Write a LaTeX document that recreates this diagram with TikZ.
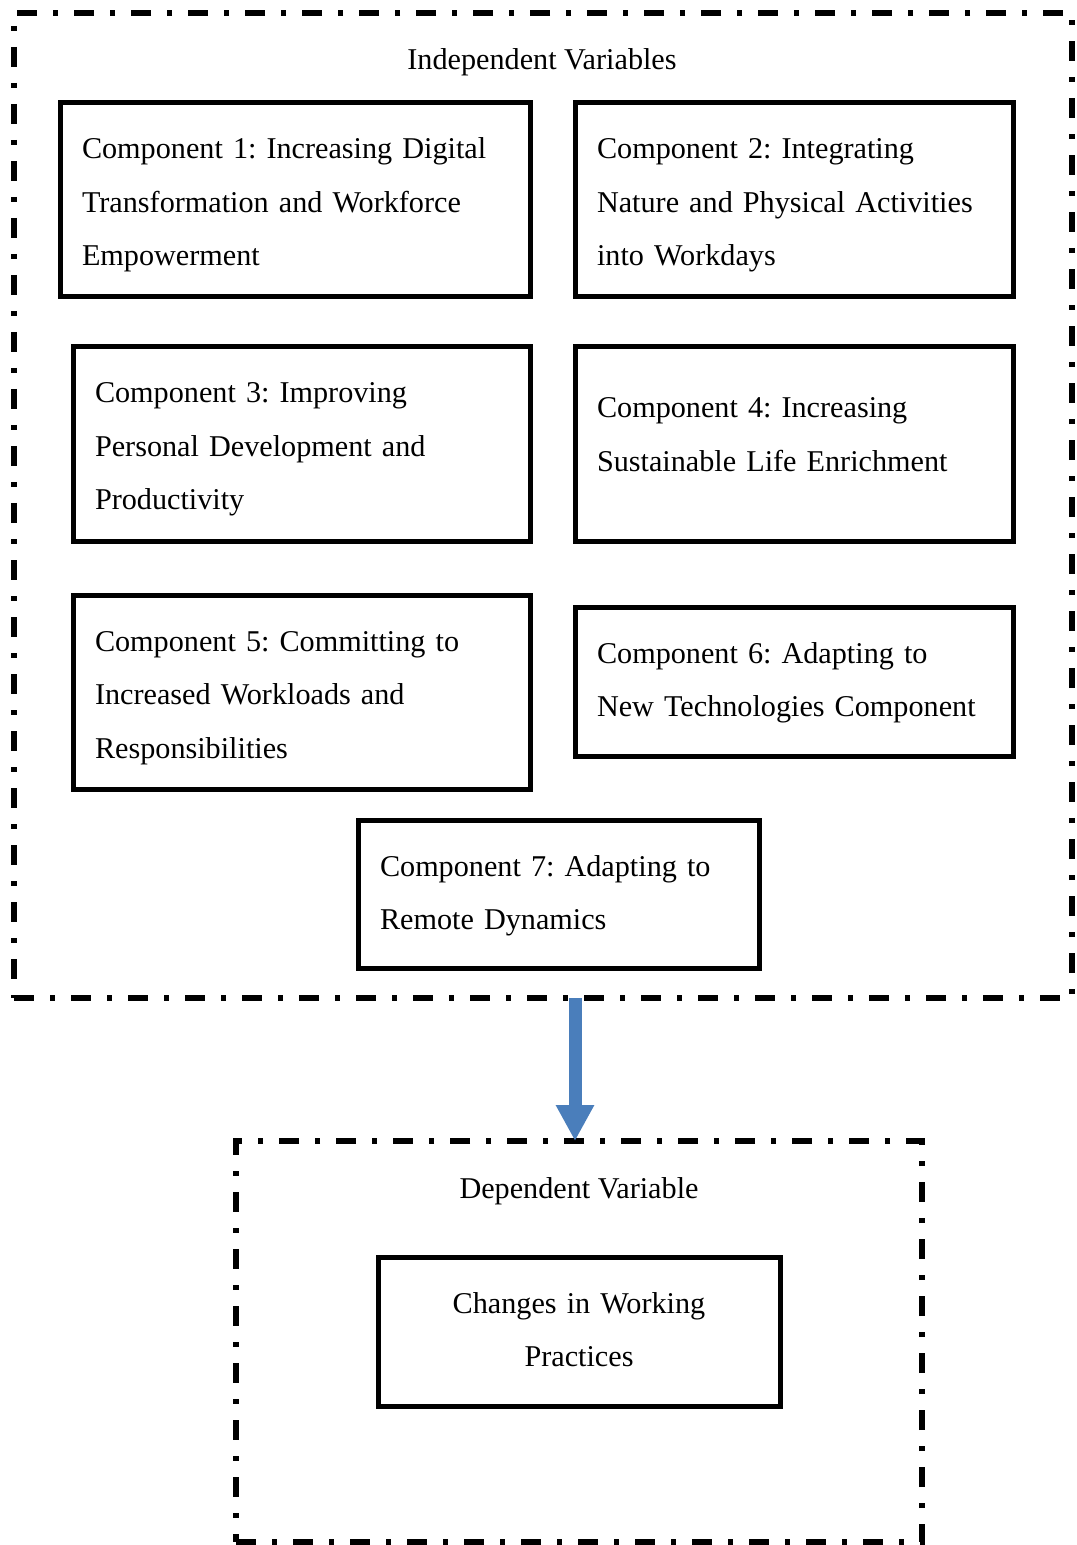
\documentclass[tikz,border=0pt]{standalone}
\usepackage{fontspec}
\setmainfont{Liberation Serif}
\usetikzlibrary{arrows.meta}
\definecolor{arrowblue}{HTML}{4A7EBB}
\frenchspacing
\begin{document}
\begin{tikzpicture}[x=0.5pt,y=-0.5pt,
		font=\fontsize{15.1}{26.75}\selectfont,
		comp/.style={draw, line width=2.5pt, outer sep=0pt, anchor=north west, align=left, inner xsep=11pt, inner ysep=0pt, text height=28pt},
		group/.style={draw, line width=3pt, outer sep=0pt, anchor=north west, dash pattern=on 10pt off 8pt on 2.5pt off 8pt},
		flow/.style={-{Triangle[width=18pt,length=18pt]}, line width=6.5pt, draw=arrowblue}]
		\useasboundingbox (0,0) rectangle (1076,1545);
		% independent variables
		\node [group, minimum width=529pt, minimum height=492.5pt] (indep) at (14,13) {};
		\node (indeptitle) at (542,62) {Independent Variables};
		\node [comp, text width=213pt, text depth=69pt] (comp1) at (60,103) {Component 1: Increasing Digital\\Transformation and Workforce\\Empowerment};
		\node [comp, text width=197pt, text depth=69pt] (comp2) at (575,103) {Component 2: Integrating\\Nature and Physical Activities\\into Workdays};
		\node [comp, text width=206.5pt, text depth=69pt] (comp3) at (73,347) {Component 3: Improving\\Personal Development and\\Productivity};
		\node [comp, text width=197pt, text height=35.5pt, text depth=61.5pt] (comp4) at (575,347) {Component 4: Increasing\\Sustainable Life Enrichment};
		\node [comp, text width=206.5pt, text depth=69pt] (comp5) at (73,595) {Component 5: Committing to\\Increased Workloads and\\Responsibilities};
		\node [comp, text width=197pt, text depth=46.5pt] (comp6) at (575,607) {Component 6: Adapting to\\New Technologies Component};
		\node [comp, text width=178.5pt, text depth=46pt] (comp7) at (358,820) {Component 7: Adapting to\\Remote Dynamics};
		% dependent variable
		\node [group, minimum width=343pt, minimum height=200.5pt] (dep) at (236,1141) {};
		\node (deptitle) at (579,1191) {Dependent Variable};
		\node [comp, align=center, text width=179pt, text depth=46.5pt] (change) at (378,1257) {Changes in Working\\Practices};
		\draw [flow] ([xshift=-2pt]indep.south -| dep.north) -- ([xshift=-2pt]dep.north);
	\end{tikzpicture}
\end{document}
